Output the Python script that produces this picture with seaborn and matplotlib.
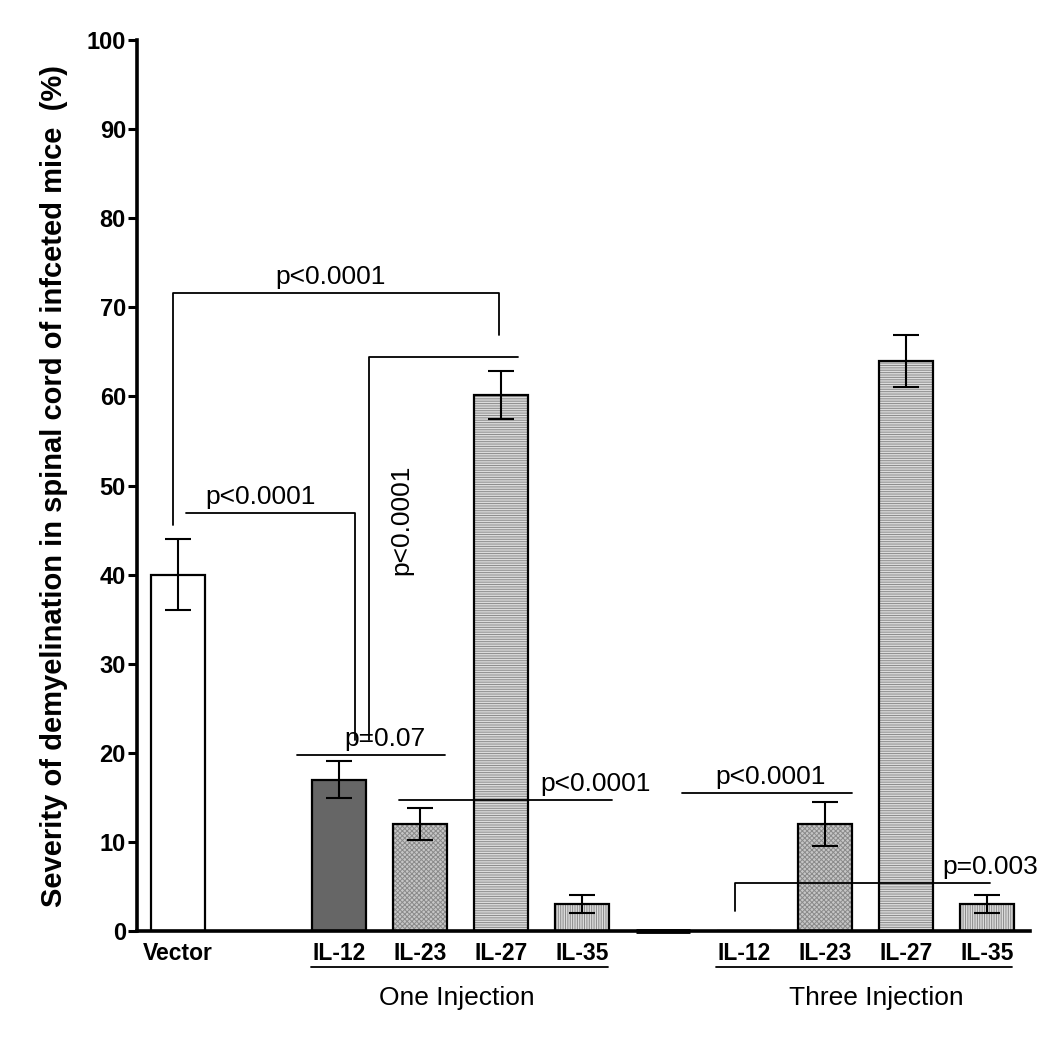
import seaborn as sns
import matplotlib.pyplot as plt
import matplotlib.transforms as mtransforms
import pandas as pd

# bar slots (blank slots keep the gaps between groups)
slots = [0, 2, 3, 4, 5, 6, 7, 8, 9, 10]
labels = ["Vector", "IL-12", "IL-23", "IL-27", "IL-35", "", "IL-12", "IL-23", "IL-27", "IL-35"]
severity = [40, 17, 12, 60.2, 3, 0, 0, 12, 64, 3]
err = [4, 2.1, 1.8, 2.7, 1, 0, 0, 2.5, 2.9, 1]

fills = ["white", "#666666", "#c6c6c6", "#dcdcdc", "#dcdcdc", "black", "white", "#c6c6c6", "#dcdcdc", "#dcdcdc"]
hatches = ["", "", "xxxxxxx", "-------", "|||||||", "", "", "xxxxxxx", "-------", "|||||||"]

groups = ["One Injection", "Three Injection"]
group_span = [(1.65, 5.32), (6.65, 10.31)]
group_text_x = [3.45, 8.63]

# significance brackets: (x points, y points, text, text x, text y, rotation)
brackets = [
    ([-0.05, -0.05, 3.975, 3.975], [45.6, 71.6, 71.6, 66.9], "p<0.0001", 1.89, 72.1, 0),
    ([0.1, 2.19, 2.19], [46.9, 46.9, 21.4], "p<0.0001", 1.03, 47.4, 0),
    ([2.37, 2.37, 4.2], [21.4, 64.4, 64.4], "p<0.0001", 2.76, 46.1, 90),
    ([1.48, 3.31], [19.8, 19.8], "p=0.07", 2.56, 20.2, 0),
    ([2.74, 5.37], [14.7, 14.7], "p<0.0001", 5.16, 15.1, 0),
    ([6.23, 8.33], [15.5, 15.5], "p<0.0001", 7.32, 15.9, 0),
    ([6.88, 6.88, 10.04], [2.2, 5.4, 5.4], "p=0.003", 10.04, 5.8, 0),
]

df = pd.DataFrame({"slot": slots, "severity": severity})

sns.set_theme(style="ticks")
plt.rcParams["font.family"] = ["Liberation Sans", "DejaVu Sans"]
plt.rcParams["hatch.linewidth"] = 0.7
for key in ["text.color", "axes.labelcolor", "xtick.color", "ytick.color", "axes.edgecolor"]:
    plt.rcParams[key] = "black"

fig = plt.figure(figsize=(10.5, 10.37), dpi=100)
ax = fig.add_axes([0.1305, 0.1022, 0.8505, 0.8592])

# fills and hatches (hatch takes the edge colour, so the outline is drawn on top)
sns.barplot(data=df, x="slot", y="severity", native_scale=True, width=0.667,
            color="white", linewidth=0, errorbar=None, ax=ax)
for patch, fc, h in zip(ax.patches, fills, hatches):
    patch.set_facecolor(fc)
    patch.set_hatch(h)
    patch.set_edgecolor("#8a8a8a" if h else fc)
n_fill = len(ax.patches)

sns.barplot(data=df, x="slot", y="severity", native_scale=True, width=0.667,
            fill=False, color="black", linewidth=1.6, errorbar=None, ax=ax)
for patch, fc in zip(ax.patches[n_fill:], fills):
    patch.set_edgecolor("black")
    if fc == "black":
        patch.set_linewidth(3.5)
        patch.set_clip_on(False)

nz = [i for i, e in enumerate(err) if e > 0]
ax.errorbar([slots[i] for i in nz], [severity[i] for i in nz], yerr=[err[i] for i in nz],
            fmt="none", ecolor="black", elinewidth=1.5, capsize=9.5, capthick=1.5, zorder=5)

for xs, ys, txt, tx, ty, rot in brackets:
    ax.plot(xs, ys, color="black", lw=1.3, zorder=6)
    if rot:
        ax.text(tx, ty, txt, rotation=rot, ha="center", va="center", fontsize=19)
    else:
        ax.text(tx, ty, txt, ha="center", va="bottom", fontsize=19)

trans = mtransforms.blended_transform_factory(ax.transData, ax.transAxes)
for name, (x0, x1), gx in zip(groups, group_span, group_text_x):
    ax.plot([x0, x1], [-0.0404, -0.0404], color="black", lw=1.3, transform=trans, clip_on=False)
    ax.text(gx, -0.075, name, transform=trans, ha="center", va="center", fontsize=19)

ax.set_xlim(-0.5, 10.53)
ax.set_ylim(0, 100)
ax.set_yticks(range(0, 101, 10))
ax.set_xticks([s for s, l in zip(slots, labels) if l])
ax.set_xticklabels([l for l in labels if l], fontsize=16.5, fontweight="bold")
ax.tick_params(axis="x", length=0, pad=8)
ax.tick_params(axis="y", length=6.5, width=2.2, labelsize=17, pad=1.5)
for t in ax.get_yticklabels():
    t.set_fontweight("bold")
ax.set_xlabel("")
ax.set_ylabel("Severity of demyelination in spinal cord of infceted mice  (%)",
              fontsize=21, fontweight="bold", labelpad=13)
sns.despine(ax=ax)
ax.spines["left"].set_linewidth(2.6)
ax.spines["bottom"].set_linewidth(2.6)

fig.savefig("out.png", dpi=100)
